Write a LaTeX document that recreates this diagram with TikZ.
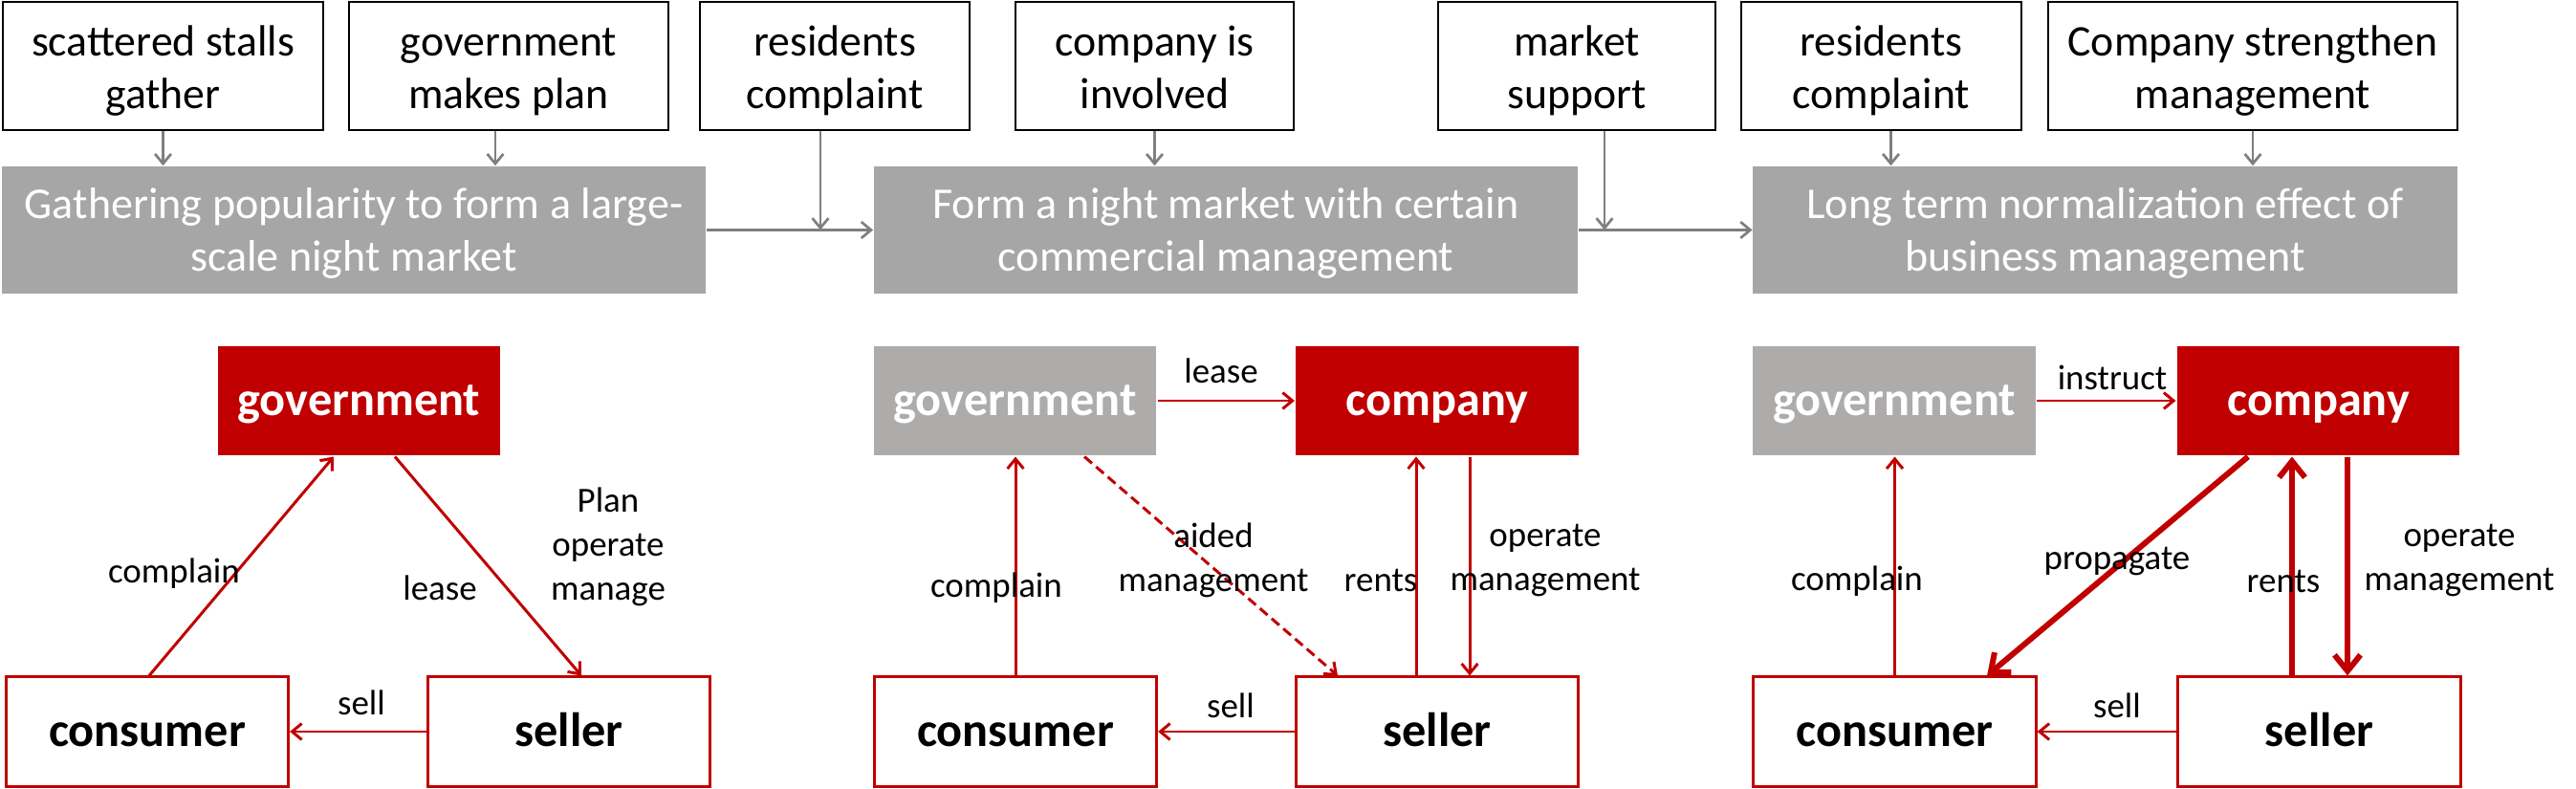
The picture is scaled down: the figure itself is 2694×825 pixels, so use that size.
\documentclass[tikz,border=0pt]{standalone}
\usepackage{fontspec}
\setmainfont{Carlito}
\usepackage{xcolor}
\usetikzlibrary{arrows.meta}

\definecolor{DeepRed}{HTML}{C00000}
\definecolor{StageGray}{HTML}{A6A6A6}
\definecolor{GovGray}{HTML}{AEABAB}
\definecolor{ArrowGray}{HTML}{7F7F7F}

\tikzset{
  cause/.style={draw=black,line width=0.6pt,fill=white,align=center,inner sep=0pt,
    minimum height=1.34cm,text height=26.3pt,text depth=1pt,
    font=\fontsize{13}{15.6}\selectfont},
  stage/.style={fill=StageGray,text=white,align=center,inner sep=0pt,
    minimum height=1.33cm,minimum width=7.36cm,text height=25.4pt,text depth=1pt,
    font=\fontsize{13.1}{15.6}\selectfont},
  actor/.style={draw=DeepRed,line width=0.85pt,fill=white,inner sep=0pt,
    minimum width=2.95cm,minimum height=1.14cm,text height=9.6pt,text depth=1pt,
    font=\fontsize{14.3}{16}\selectfont\bfseries},
  lead/.style={actor,draw=none,fill=DeepRed,text=white},
  aside/.style={actor,draw=none,fill=GovGray,text=white},
  flow/.style={->,draw=ArrowGray,line width=0.77pt},
  rel/.style={->,draw=DeepRed,line width=0.85pt},
  aid/.style={dash pattern=on 3pt off 1.6pt},
  strong/.style={-{Straight Barb[length=4.8pt,width=7.7pt]},draw=DeepRed,line width=1.7pt},
  lbl/.style={font=\fontsize{10.5}{13}\selectfont,align=center,inner sep=0pt}
}

\begin{document}
\begin{tikzpicture}[>={Straight Barb[length=2.9pt,width=4.8pt]},x=0.01cm,y=-0.01cm]
\useasboundingbox (0,0) rectangle (2694,825);
% causes on top
\node[cause,minimum width=3.35cm] (t1) at (170.5,69) {scattered stalls\\gather};
\node[cause,minimum width=3.34cm] (t2) at (532,69) {government\\makes plan};
\node[cause,minimum width=2.82cm] (t3) at (873,69) {residents\\complaint};
\node[cause,minimum width=2.91cm] (t4) at (1207.5,69) {company is\\involved};
\node[cause,minimum width=2.90cm] (t5) at (1649,69) {market\\support};
\node[cause,minimum width=2.93cm] (t6) at (1967.5,69) {residents\\complaint};
\node[cause,minimum width=4.28cm] (t7) at (2356,69) {Company strengthen\\management};
% stages
\node[stage] (s1) at (370,240.5) {Gathering popularity to form a large-\\scale night market};
\node[stage] (s2) at (1282,240.5) {Form a night market with certain\\commercial management};
\node[stage] (s3) at (2201.5,240.5) {Long term normalization effect of\\business management};
\draw[flow] (t1) -- (t1 |- s1.north);
\draw[flow] ([xshift=-0.14cm]t2.south) -- ([xshift=-0.14cm]t2.south |- s1.north);
\draw[flow] ([xshift=-0.15cm]t3.south) -- ([xshift=-0.15cm]t3.south |- s1.east);
\draw[flow] (t4) -- (t4 |- s2.north);
\draw[flow] ([xshift=0.29cm]t5.south) -- ([xshift=0.29cm]t5.south |- s2.east);
\draw[flow] ([xshift=0.1cm]t6.south) -- ([xshift=0.1cm]t6.south |- s3.north);
\draw[flow] (t7) -- (t7 |- s3.north);
\draw[flow] (s1) -- (s2);
\draw[flow] (s2) -- (s3);
% first panel
\node[lead] (gov1) at (375.5,419) {government};
\node[actor] (con1) at (154,765) {consumer};
\node[actor] (sel1) at (595,765) {seller};
\draw[rel] ([xshift=0.02cm]con1.north) -- ([xshift=-0.265cm]gov1.south);
\draw[rel] ([xshift=0.375cm]gov1.south) -- ([xshift=0.13cm]sel1.north);
\draw[rel] (sel1) -- (con1);
\node[lbl] (c1) at (182,600) {complain};
\node[lbl] (e1) at (460,615) {lease};
\node[lbl] (p1) at (636,572) {Plan\\operate\\manage};
\node[lbl] (b1) at (378,735) {sell};
% second panel
\node[aside] (gov2) at (1061.5,419) {government};
\node[lead] (com2) at (1503,419) {company};
\node[actor] (con2) at (1062,765) {consumer};
\node[actor] (sel2) at (1503,765) {seller};
\draw[rel] (gov2) -- (com2);
\draw[rel] (con2) -- (con2 |- gov2.south);
\draw[rel,aid] ([xshift=0.725cm]gov2.south) -- ([xshift=-1.04cm]sel2.north);
\draw[rel] ([xshift=-0.22cm]sel2.north) -- ([xshift=-0.22cm]sel2.north |- com2.south);
\draw[rel] ([xshift=0.34cm]com2.south) -- ([xshift=0.34cm]com2.south |- sel2.north);
\draw[rel] (sel2) -- (con2);
\node[lbl] (e2) at (1277,388) {lease};
\node[lbl] (c2) at (1042,615) {complain};
\node[lbl] (a2) at (1269,586) {aided\\management};
\node[lbl] (r2) at (1444,607) {rents};
\node[lbl] (o2) at (1616,586) {operate\\management};
\node[lbl] (b2) at (1287,738) {sell};
% third panel
\node[aside] (gov3) at (1981,419) {government};
\node[lead] (com3) at (2424.5,419) {company};
\node[actor] (con3) at (1981.5,765) {consumer};
\node[actor] (sel3) at (2425.5,765) {seller};
\draw[rel] (gov3) -- (com3);
\draw[rel] (con3) -- (con3 |- gov3.south);
\draw[strong] ([xshift=-0.735cm]com3.south) -- ([xshift=0.965cm]con3.north);
\draw[strong] ([xshift=-0.285cm]sel3.north) -- ([xshift=-0.285cm]sel3.north |- com3.south);
\draw[strong] ([xshift=0.305cm]com3.south) -- ([xshift=0.305cm]com3.south |- sel3.north);
\draw[rel] (sel3) -- (con3);
\node[lbl] (i3) at (2209,395) {instruct};
\node[lbl] (c3) at (1942,608) {complain};
\node[lbl] (g3) at (2214,587) {propagate};
\node[lbl] (r3) at (2388,608) {rents};
\node[lbl] (o3) at (2572,586) {operate\\management};
\node[lbl] (b3) at (2214,738) {sell};
\end{tikzpicture}
\end{document}
